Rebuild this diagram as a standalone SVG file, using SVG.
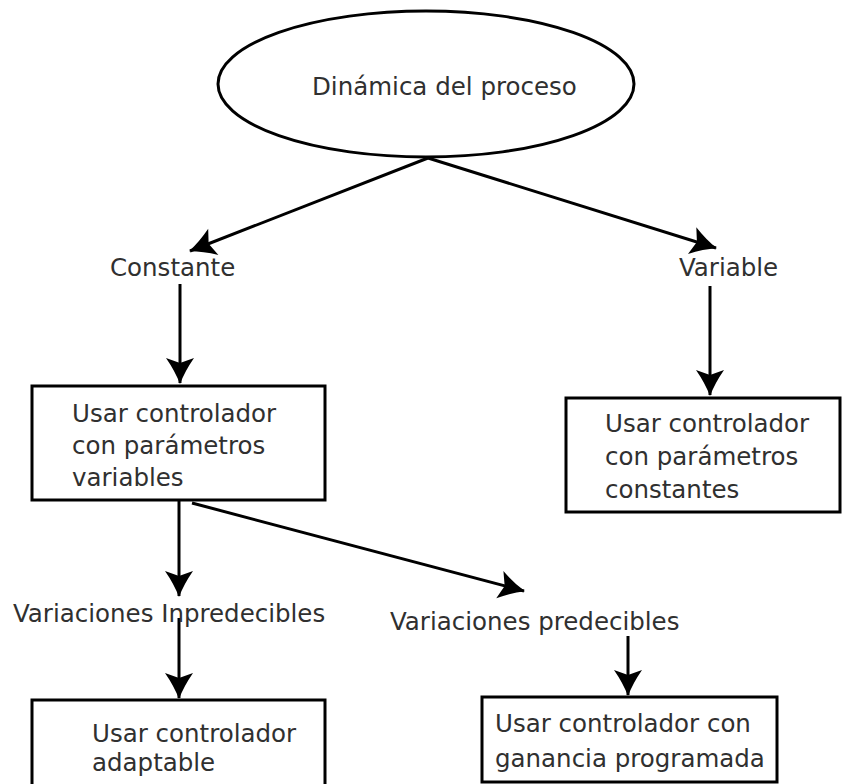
<svg xmlns="http://www.w3.org/2000/svg" width="848" height="784" viewBox="0 0 848 784">
  <style>
    .shape { fill: #ffffff; stroke: #000000; stroke-width: 3; }
    .label { font-family: "DejaVu Sans", "Liberation Sans", sans-serif; font-size: 24.5px; fill: #303030; }
    .boxtext { font-family: "DejaVu Sans", "Liberation Sans", sans-serif; font-size: 24.5px; fill: #303030; }
    .edge { fill: none; stroke: #000000; stroke-width: 3; marker-end: url(#arrow); }
  </style>
  <defs>
    <!-- filled concave arrowhead, tip at the line end -->
    <marker id="arrow" viewBox="-28 -15 30 30" refX="0" refY="0" markerWidth="30" markerHeight="30" markerUnits="userSpaceOnUse" orient="auto">
      <path d="M1,0 Q-12,-5 -25,-14 L-20,0 L-25,14 Q-12,5 1,0 Z" fill="#000000"/>
    </marker>
  </defs>

  <rect width="848" height="784" fill="#ffffff"/>

  <g id="connectors">
    <line class="edge" x1="428" y1="158" x2="190" y2="251"/>
    <line class="edge" x1="428" y1="158" x2="716" y2="248"/>
    <line class="edge" x1="180" y1="284" x2="180" y2="383"/>
    <line class="edge" x1="710" y1="286" x2="710" y2="395"/>
    <line class="edge" x1="179" y1="501" x2="179" y2="596"/>
    <line class="edge" x1="192" y1="503" x2="524" y2="591"/>
    <line class="edge" x1="179" y1="618" x2="179" y2="698"/>
    <line class="edge" x1="628" y1="636" x2="628" y2="695"/>
  </g>

  <g id="node-dinamica">
    <ellipse class="shape" cx="426" cy="84" rx="208" ry="73"/>
    <text class="label" x="312" y="95">Dinámica del proceso</text>
  </g>

  <g id="node-constante">
    <text class="label" x="110" y="276">Constante</text>
  </g>

  <g id="node-variable">
    <text class="label" x="679" y="276">Variable</text>
  </g>

  <g id="node-param-variables">
    <rect class="shape" x="32" y="386" width="293" height="114"/>
    <text class="boxtext" x="72" y="422">Usar controlador</text>
    <text class="boxtext" x="72" y="454">con parámetros</text>
    <text class="boxtext" x="72" y="486">variables</text>
  </g>

  <g id="node-param-constantes">
    <rect class="shape" x="566" y="398" width="274" height="114"/>
    <text class="boxtext" x="605" y="432">Usar controlador</text>
    <text class="boxtext" x="605" y="465">con parámetros</text>
    <text class="boxtext" x="605" y="498">constantes</text>
  </g>

  <g id="node-inpredecibles">
    <text class="label" x="13" y="622">Variaciones Inpredecibles</text>
  </g>

  <g id="node-predecibles">
    <text class="label" x="390" y="630">Variaciones predecibles</text>
  </g>

  <g id="node-adaptable">
    <rect class="shape" x="32" y="700" width="293" height="100"/>
    <text class="boxtext" x="92" y="742">Usar controlador</text>
    <text class="boxtext" x="92" y="771">adaptable</text>
  </g>

  <g id="node-ganancia">
    <rect class="shape" x="482" y="697" width="295" height="85"/>
    <text class="boxtext" x="495" y="732">Usar controlador con</text>
    <text class="boxtext" x="495" y="767">ganancia programada</text>
  </g>
</svg>
